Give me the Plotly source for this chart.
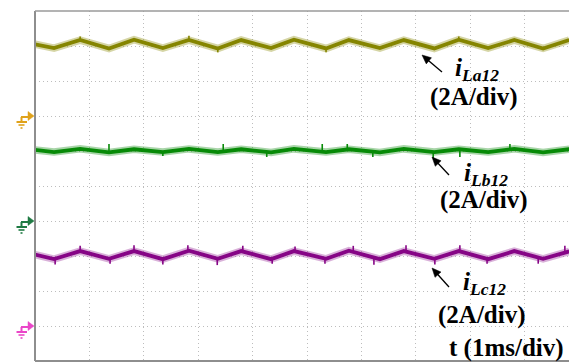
import math
import plotly.graph_objects as go

# ---------------- data ----------------
# time axis in ms (1 ms / div), vertical axis in divisions (0 = bottom edge)
t_vertex = [0.00, 0.35, 0.83, 1.36, 1.82, 2.35, 2.83, 3.36, 3.79, 4.34, 4.76,
            5.35, 5.77, 6.34, 6.78, 7.34, 7.79, 8.33, 8.81, 9.34, 9.82]

iLa12 = [9.05, 8.94, 9.17, 8.93, 9.18, 8.94, 9.17, 8.93, 9.17, 8.94, 9.18,
         8.93, 9.17, 8.94, 9.17, 8.93, 9.18, 8.94, 9.17, 8.93, 9.17]
iLb12 = [6.03, 5.97, 6.06, 5.96, 6.05, 5.97, 6.06, 5.97, 6.05, 5.96, 6.06,
         5.97, 6.05, 5.96, 6.06, 5.97, 6.05, 5.97, 6.06, 5.96, 6.05]
iLc12 = [3.04, 2.91, 3.14, 2.92, 3.14, 2.91, 3.15, 2.92, 3.14, 2.91, 3.14,
         2.92, 3.15, 2.91, 3.14, 2.92, 3.14, 2.91, 3.14, 2.92, 3.13]

# noise spikes: time, low end, high end (div)
La_spike_t = [0.83, 2.83, 3.36, 5.35, 7.79]
La_spike_lo = [9.15, 9.15, 8.82, 8.82, 9.15]
La_spike_hi = [9.27, 9.29, 8.95, 8.95, 9.27]

Lb_spike_t = [1.36, 2.35, 3.46, 4.26, 5.28, 5.74, 6.21, 7.32, 7.81, 8.73]
Lb_spike_lo = [5.99, 5.86, 6.00, 5.83, 6.00, 6.03, 5.83, 5.80, 5.83, 6.00]
Lb_spike_hi = [6.20, 6.00, 6.20, 6.00, 6.20, 6.20, 5.98, 5.97, 6.00, 6.20]

Lc_spike_t = [0.37, 0.83, 1.38, 1.82, 2.35, 2.81, 3.35, 3.82, 4.36, 4.78,
              5.33, 5.85, 6.23, 6.82, 7.35, 7.81, 8.31, 9.25, 9.74]
Lc_spike_lo = [2.76, 3.13, 2.78, 3.13, 2.76, 3.13, 2.74, 3.13, 2.78, 3.13,
               2.78, 3.13, 2.75, 3.13, 2.76, 3.13, 2.78, 2.78, 3.13]
Lc_spike_hi = [2.92, 3.29, 2.92, 3.31, 2.92, 3.31, 2.92, 3.29, 2.92, 3.27,
               2.92, 3.29, 2.92, 3.31, 2.92, 3.31, 2.92, 2.92, 3.29]

ground_levels = [7, 4, 1]          # channel reference levels (div)
x_range = [0, 9.816]
y_range = [0, 10]

channel_names = ["iLa12", "iLb12", "iLc12"]
channel_core = ["#858500", "#078a07", "#860586"]
channel_halo = ["rgba(150,150,30,0.4)", "rgba(40,150,40,0.4)", "rgba(160,60,160,0.4)"]
ground_colors = ["#e0a21a", "#1f7a43", "#ea46c8"]

# ---------------- layout geometry ----------------
W, H = 569, 362
ML, MR, MT, MB = 35, 0, 11, 1
PW, PH = W - ML - MR, H - MT - MB


def px(x):
    return (x - ML) / PW


def py(y):
    return (H - MB - y) / PH


fig = go.Figure()

series = [iLa12, iLb12, iLc12]
spikes = [(La_spike_t, La_spike_lo, La_spike_hi),
          (Lb_spike_t, Lb_spike_lo, Lb_spike_hi),
          (Lc_spike_t, Lc_spike_lo, Lc_spike_hi)]

for k in range(3):
    fig.add_trace(go.Scatter(x=t_vertex, y=series[k], mode="lines",
                             line=dict(color=channel_halo[k], width=7.5),
                             hoverinfo="skip", showlegend=False))
for k in range(3):
    st, slo, shi = spikes[k]
    sx, sy = [], []
    for t, lo, hi in zip(st, slo, shi):
        sx += [t, t, None]
        sy += [lo, hi, None]
    fig.add_trace(go.Scatter(x=sx, y=sy, mode="lines",
                             line=dict(color=channel_core[k], width=1.6),
                             hoverinfo="skip", showlegend=False))
    fig.add_trace(go.Scatter(x=t_vertex, y=series[k], mode="lines",
                             name=channel_names[k],
                             line=dict(color=channel_core[k], width=3.8),
                             showlegend=False))

axis_common = dict(showticklabels=False, ticks="", zeroline=False,
                   showgrid=True, gridcolor="#bdbdbd", gridwidth=1,
                   griddash="1px,3px", showline=False, fixedrange=True)
fig.update_xaxes(range=x_range, dtick=1, tick0=0, **axis_common)
fig.update_yaxes(range=y_range, dtick=1, tick0=0, **axis_common)

shapes = []
# frame: left, top, bottom
border = dict(color="#8e8e8e", width=2)
shapes.append(dict(type="line", xref="paper", yref="paper", x0=0, x1=0, y0=0, y1=1, line=border))
shapes.append(dict(type="line", xref="paper", yref="paper", x0=0, x1=1, y0=1, y1=1,
                   line=dict(color="#9a9a9a", width=1.6)))
shapes.append(dict(type="line", xref="paper", yref="paper", x0=0, x1=1, y0=0, y1=0, line=border))

# ground reference markers
for g, c in zip(ground_levels, ground_colors):
    gy = H - MB - g * PH / 10
    tri = "M {} {} L {} {} L {} {} Z".format(px(28), py(gy - 4.5), px(34), py(gy),
                                             px(28), py(gy + 4.5))
    shapes.append(dict(type="path", xref="paper", yref="paper", path=tri,
                       fillcolor=c, line=dict(color=c, width=0.5)))
    segs = [((21, gy + 1), (29, gy + 1), 2),
            ((21.5, gy + 1), (21.5, gy + 6), 2),
            ((16.5, gy + 6), (27, gy + 6), 2),
            ((18.5, gy + 9), (24.5, gy + 9), 1.6),
            ((20.5, gy + 12), (22.5, gy + 12), 1.6)]
    for (a, b, w) in segs:
        shapes.append(dict(type="line", xref="paper", yref="paper",
                           x0=px(a[0]), y0=py(a[1]), x1=px(b[0]), y1=py(b[1]),
                           line=dict(color=c, width=w)))

# pointer arrows (head pixel -> tail pixel), drawn as shapes
for (hx, hy, tx, ty) in [(422, 55, 442, 72), (432, 157, 449, 175), (432, 268, 449, 287)]:
    L = math.hypot(tx - hx, ty - hy)
    dx, dy = (tx - hx) / L, (ty - hy) / L
    nx, ny = -dy, dx
    bx, by = hx + 9 * dx, hy + 9 * dy
    shapes.append(dict(type="line", xref="paper", yref="paper",
                       x0=px(bx - 1 * dx), y0=py(by - 1 * dy), x1=px(tx), y1=py(ty),
                       line=dict(color="black", width=1.3)))
    head = "M {} {} L {} {} L {} {} Z".format(
        px(hx), py(hy), px(bx + 4 * nx), py(by + 4 * ny), px(bx - 4 * nx), py(by - 4 * ny))
    shapes.append(dict(type="path", xref="paper", yref="paper", path=head,
                       fillcolor="black", line=dict(color="black", width=0.5)))

fig.update_layout(shapes=shapes)

serif = "Liberation Serif, Times New Roman, serif"
ann = []
labels = [("La12", 453, 69), ("Lb12", 462, 174), ("Lc12", 461, 283)]
for (s, lx, ly) in labels:
    ann.append(dict(xref="paper", yref="paper", x=px(lx), y=py(ly),
                    text="<b><i>i</i></b><sub><b><i>{}</i></b></sub>".format(s),
                    showarrow=False, xanchor="left", yanchor="middle",
                    font=dict(family=serif, size=25, color="black")))

for (txt, cx, cy) in [("(2A/div)", 474, 97), ("(2A/div)", 484, 200),
                      ("(2A/div)", 482, 315), ("t (1ms/div)", 506, 348)]:
    ann.append(dict(xref="paper", yref="paper", x=px(cx), y=py(cy),
                    text="<b>{}</b>".format(txt), showarrow=False,
                    xanchor="center", yanchor="middle",
                    font=dict(family=serif, size=25, color="black")))

fig.update_layout(annotations=ann, width=W, height=H,
                  margin=dict(l=ML, r=MR, t=MT, b=MB, pad=0),
                  paper_bgcolor="white", plot_bgcolor="white",
                  showlegend=False)

fig.write_html("out.html", config={"displayModeBar": False},
               post_script="document.body.style.margin='0px';"
                           "document.body.style.padding='0px';"
                           "document.body.style.overflow='hidden';")
